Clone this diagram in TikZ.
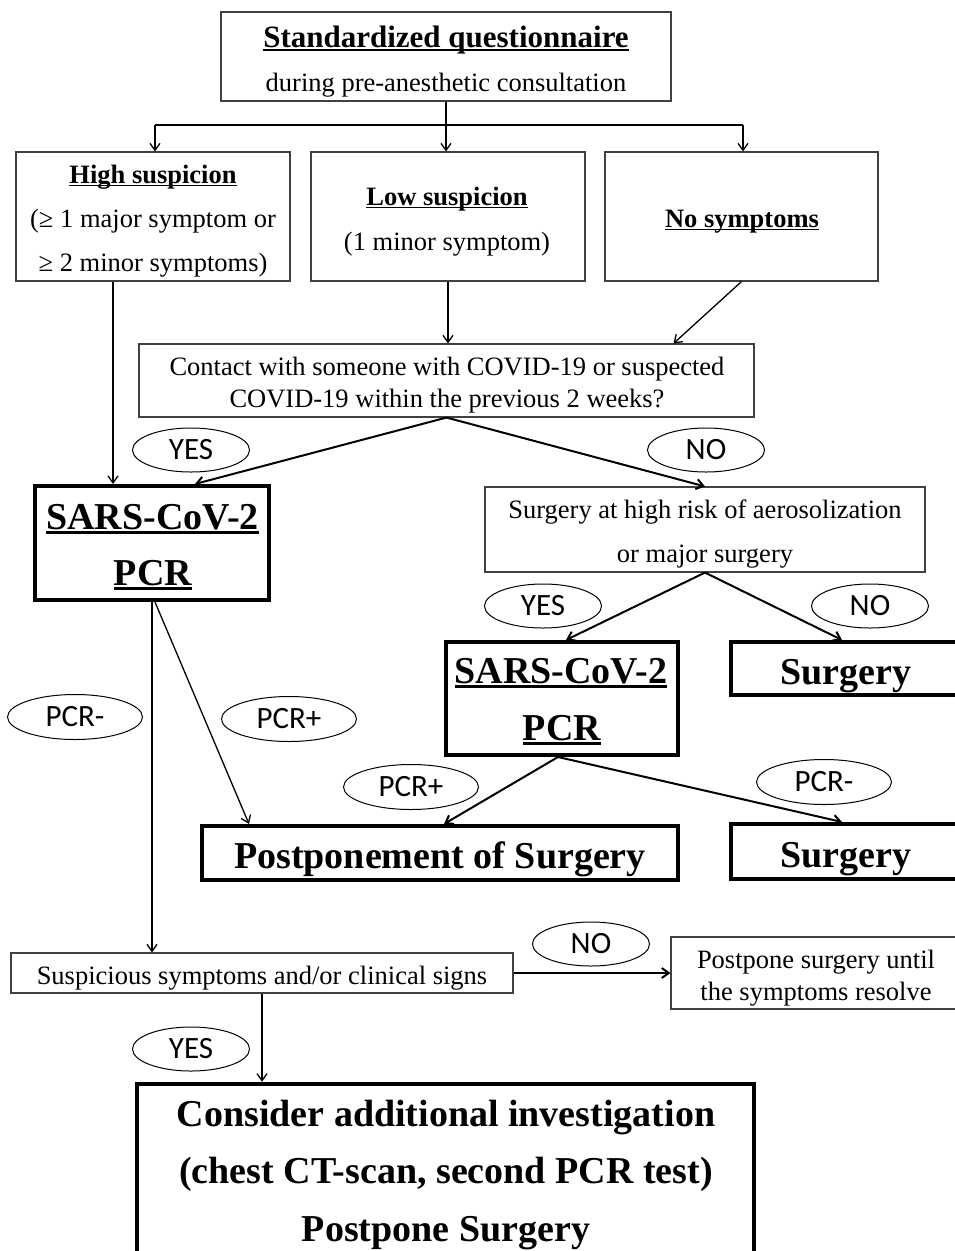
\documentclass[tikz,border=0pt]{standalone}
\usepackage{fontspec}
\setmainfont{Liberation Serif}
\newfontfamily\ellfont{Carlito}
\usetikzlibrary{arrows.meta,shapes.geometric}
\newcommand{\fs}[1]{\fontsize{#1}{#1}\selectfont}
\newcommand{\ulx}[1]{\setbox0\hbox{#1}\rlap{\rule[-0.13em]{\wd0}{0.065em}}\box0}
\begin{document}
\begin{tikzpicture}[x=1pt,y=-1pt,
  thinbox/.style={draw=black!75, line width=1.1pt, inner sep=0, rectangle},
  thickbox/.style={draw=black, line width=4pt, inner sep=0, rectangle},
  txt/.style={anchor=base, inner sep=0, font=\fs{26.5}},
  ttl/.style={anchor=base, inner sep=0, font=\fs{26.5}\bfseries},
  big/.style={anchor=base, inner sep=0, font=\fs{38}\bfseries},
  ell/.style={ellipse, draw, line width=1pt, minimum width=117, minimum height=44, inner sep=0, font=\ellfont\fs{31}},
  arr/.style={-{Straight Barb[length=7pt,width=10pt]}, line width=1.3pt},
  arrm/.style={-{Straight Barb[length=7pt,width=10pt]}, line width=2pt}]
\useasboundingbox (0,0) rectangle (954,1251);
\fill[white] (0,0) rectangle (954,1251);
% boxes
\node[thinbox, minimum width=450, minimum height=89] (top) at (446,56.5) {};
\node[thinbox, minimum width=274, minimum height=129] (high) at (153,216.5) {};
\node[thinbox, minimum width=274, minimum height=129] (low) at (448,216.5) {};
\node[thinbox, minimum width=273, minimum height=129] (nosym) at (741.5,216.5) {};
\node[thinbox, minimum width=615, minimum height=73] (contact) at (446.5,380.5) {};
\node[thickbox, minimum width=234, minimum height=114] (sars1) at (152,543) {};
\node[thinbox, minimum width=440, minimum height=85] (risk) at (705,529.5) {};
\node[thickbox, minimum width=232, minimum height=113] (sars2) at (562,698.5) {};
\node[thickbox, minimum width=230, minimum height=53] (surg1) at (846,668.5) {};
\node[thickbox, minimum width=476, minimum height=54] (postp) at (440,853) {};
\node[thickbox, minimum width=230, minimum height=55] (surg2) at (846,851.5) {};
\node[thinbox, minimum width=502, minimum height=40] (susp) at (262,973) {};
\node[thinbox, minimum width=290, minimum height=72] (wait) at (816,973) {};
\node[thickbox, line width=4.5pt, minimum width=617, minimum height=212] (final) at (445.5,1190) {};
% texts
\node[anchor=base, inner sep=0, font=\fs{31}\bfseries] (t1) at (446,47) {\ulx{Standardized questionnaire}};
\node[txt] (t2) at (446,91) {during pre-anesthetic consultation};
\node[ttl] (h1) at (153,183) {\ulx{High suspicion}};
\node[txt] (h2) at (153,227) {(≥ 1 major symptom or};
\node[txt] (h3) at (153,271) {≥ 2 minor symptoms)};
\node[ttl] (l1) at (447,205) {\ulx{Low suspicion}};
\node[txt] (l2) at (447,250) {(1 minor symptom)};
\node[ttl] (n1) at (742,227) {\ulx{No symptoms}};
\node[txt] (c1) at (447,375) {Contact with someone with COVID-19 or suspected};
\node[txt] (c2) at (447,407) {COVID-19 within the previous 2 weeks?};
\node[big] (s1a) at (152.5,529) {\ulx{SARS-CoV-2}};
\node[big] (s1b) at (153,585) {\ulx{PCR}};
\node[txt] (r1) at (705,518) {Surgery at high risk of aerosolization};
\node[txt] (r2) at (705,562) {or major surgery};
\node[big] (s2a) at (561,683) {\ulx{SARS-CoV-2}};
\node[big] (s2b) at (562,740) {\ulx{PCR}};
\node[big] (g1) at (846,684) {Surgery};
\node[big] (p1) at (440,868) {Postponement of Surgery};
\node[big] (g2) at (846,867) {Surgery};
\node[txt] (u1) at (262,984) {Suspicious symptoms and/or clinical signs};
\node[txt] (w1) at (816,968) {Postpone surgery until};
\node[txt] (w2) at (816,1000) {the symptoms resolve};
\node[big] (f1) at (446,1126) {Consider additional investigation};
\node[big] (f2) at (446,1183) {(chest CT-scan, second PCR test)};
\node[big] (f3) at (446,1241) {Postpone Surgery};
% ellipses
\node[ell] (e1) at (191,450) {YES};
\node[ell] (e2) at (706,450) {NO};
\node[ell] (e3) at (543,606) {YES};
\node[ell] (e4) at (870,606) {NO};
\node[ell, minimum width=135, minimum height=45] (e5) at (75,717) {PCR-};
\node[ell, minimum width=135, minimum height=45] (e6) at (289,719) {PCR+};
\node[ell, minimum width=135, minimum height=45] (e7) at (411,787) {PCR+};
\node[ell, minimum width=135, minimum height=45] (e8) at (824,782) {PCR-};
\node[ell] (e9) at (591,944) {NO};
\node[ell] (e10) at (191,1049) {YES};
% connectors
\coordinate (br) at (446,125);
\coordinate (bl) at (155,125);
\coordinate (bri) at (743,125);
\draw[line width=2pt] (top.south) -- (br);
\draw[line width=2.5pt] (bl) -- (bri);
\draw[arr] (bl) -- (bl |- high.north);
\draw[arr] (br) -- (br |- low.north);
\draw[arr] (bri) -- (bri |- nosym.north);
\draw[arr] ([xshift=-40]high.south) -- ([xshift=-40]high.south |- sars1.north);
\draw[arr] (low.south) -- (low.south |- contact.north);
\draw[arr] (nosym.south) -- ([xshift=-81]contact.north east);
\draw[arrm] (contact.south) -- ([xshift=43]sars1.north);
\draw[arrm] (contact.south) -- (risk.north);
\draw[arrm] (risk.south) -- ([xshift=4]sars2.north);
\draw[arrm] (risk.south) -- ([xshift=-4]surg1.north);
\draw[arrm] ([xshift=-4]sars2.south) -- ([xshift=4]postp.north);
\draw[arrm] ([xshift=-4]sars2.south) -- ([xshift=-4]surg2.north);
\draw[arr] ([xshift=3]sars1.south) -- ([xshift=49]postp.north west);
\draw[arr] (sars1.south) -- (sars1.south |- susp.north);
\draw[arrm] (susp.east) -- (wait.west);
\draw[arr] (susp.south) -- (susp.south |- final.north);
\end{tikzpicture}
\end{document}
